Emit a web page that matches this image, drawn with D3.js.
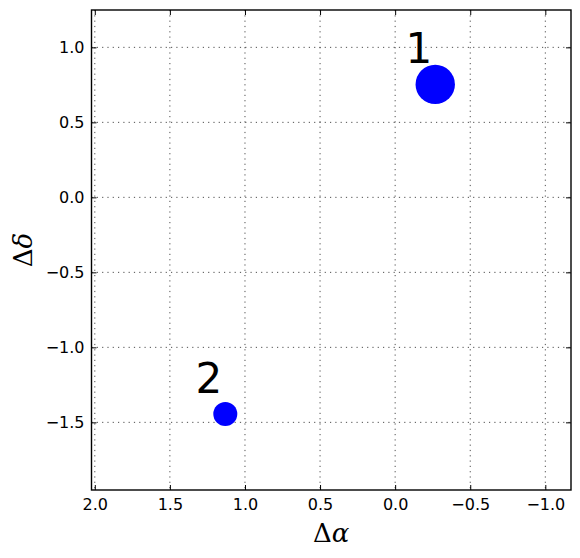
<!DOCTYPE html>
<html>
<head>
<meta charset="utf-8">
<script src="https://cdn.jsdelivr.net/npm/d3@7"></script>
<style>
body { margin:0; background:#fff; }
svg { display:block; }
</style>
</head>
<body>
<svg id="chart"></svg>
<script>
// data
var labels = ["1", "2"]
var dAlpha = [-0.267, 1.131]
var dDelta = [0.753, -1.445]
var sizes = [19.7, 12]
var xTicks = [2.0, 1.5, 1.0, 0.5, 0.0, -0.5, -1.0]
var yTicks = [1.0, 0.5, 0.0, -0.5, -1.0, -1.5]

var screen = {width:580, height:558}
var margins = {left:91.5, right:9, top:10, bottom:68}
var graph = {
	width: screen.width - margins.left - margins.right,
	height: screen.height - margins.top - margins.bottom
}

var svg = d3.select("#chart")
	.attr("width", screen.width)
	.attr("height", screen.height)

var xScale = d3.scaleLinear()
	.domain([2.022, -1.171])
	.range([0, graph.width])

var yScale = d3.scaleLinear()
	.domain([-1.951, 1.249])
	.range([graph.height, 0])

var target = svg.append("g")
	.attr("transform", "translate(" + margins.left + "," + margins.top + ")")

var fmt = function(d) { return d3.format(".1f")(d).replace("-", "\u2212") }

//------grid------
target.selectAll(".gx").data(xTicks).enter().append("line")
	.attr("x1", function(d) { return xScale(d) })
	.attr("x2", function(d) { return xScale(d) })
	.attr("y1", 0).attr("y2", graph.height)
	.attr("stroke", "#222").attr("stroke-width", 0.8)
	.attr("stroke-dasharray", "1.2,4.1")
target.selectAll(".gy").data(yTicks).enter().append("line")
	.attr("y1", function(d) { return yScale(d) })
	.attr("y2", function(d) { return yScale(d) })
	.attr("x1", 0).attr("x2", graph.width)
	.attr("stroke", "#222").attr("stroke-width", 0.8)
	.attr("stroke-dasharray", "1.2,4.1")

//------axes (inside ticks, all four sides)------
var tickLen = 5
var xb = d3.axisBottom(xScale).tickValues(xTicks).tickSize(-tickLen).tickPadding(9).tickFormat(fmt)
var xt = d3.axisTop(xScale).tickValues(xTicks).tickSize(-tickLen).tickFormat("")
var yl = d3.axisLeft(yScale).tickValues(yTicks).tickSize(-tickLen).tickPadding(7).tickFormat(fmt)
var yr = d3.axisRight(yScale).tickValues(yTicks).tickSize(-tickLen).tickFormat("")

var styleAxis = function(g) {
	g.select(".domain").remove()
	g.selectAll("line").attr("stroke", "#000").attr("stroke-width", 1)
	g.selectAll("text").attr("fill", "#000")
		.style("font-family", "'DejaVu Sans', sans-serif").style("font-size", "16px")
}

target.append("g").attr("transform", "translate(0," + graph.height + ")").call(xb).call(styleAxis)
target.append("g").call(xt).call(styleAxis)
target.append("g").call(yl).call(styleAxis)
target.append("g").attr("transform", "translate(" + graph.width + ",0)").call(yr).call(styleAxis)

target.append("rect")
	.attr("x", 0).attr("y", 0)
	.attr("width", graph.width).attr("height", graph.height)
	.attr("fill", "none").attr("stroke", "#000").attr("stroke-width", 1.4)

//------points------
var pts = dAlpha.map(function(a, i) { return {a:a, d:dDelta[i], r:sizes[i], label:labels[i]} })

target.selectAll("circle").data(pts).enter().append("circle")
	.attr("cx", function(p) { return xScale(p.a) })
	.attr("cy", function(p) { return yScale(p.d) })
	.attr("r", function(p) { return p.r })
	.attr("fill", "#0000ff")

target.selectAll(".lbl").data(pts).enter().append("text")
	.attr("x", function(p) { return xScale(p.a) - 16.5 })
	.attr("y", function(p) { return yScale(p.d) - 21 })
	.attr("text-anchor", "middle")
	.style("font-family", "'DejaVu Sans', sans-serif")
	.style("font-size", "42px")
	.text(function(p) { return p.label })

//------axis labels------
var xlab = svg.append("text")
	.attr("x", margins.left + graph.width / 2)
	.attr("y", 542)
	.attr("text-anchor", "middle")
	.style("font-family", "'DejaVu Serif', serif")
	.style("font-size", "26px")
xlab.append("tspan").text("\u0394")
xlab.append("tspan").style("font-style", "italic").text("\u03b1")

var ylab = svg.append("text")
	.attr("transform", "translate(32," + (margins.top + graph.height / 2) + ") rotate(-90)")
	.attr("text-anchor", "middle")
	.style("font-family", "'DejaVu Serif', serif")
	.style("font-size", "26px")
ylab.append("tspan").text("\u0394")
ylab.append("tspan").style("font-style", "italic").text("\u03b4")
</script>
</body>
</html>
